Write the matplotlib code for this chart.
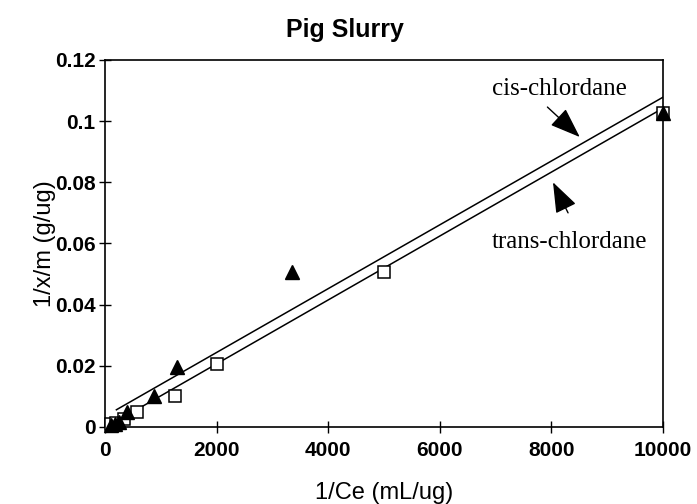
"""
Pig Slurry adsorption isotherm (linearised), cis/trans-chlordane.
"""

import matplotlib
matplotlib.use('Agg')
import matplotlib.pyplot as plt

# trans-chlordane (open squares)
trans_x = [100, 200, 333, 575, 1250, 2000, 5000, 10000]
trans_y = [0.0008, 0.0012, 0.0025, 0.0050, 0.0100, 0.0205, 0.0508, 0.1025]

# cis-chlordane (filled triangles)
cis_x = [100, 170, 250, 390, 870, 1280, 3350, 10000]
cis_y = [0.0005, 0.0010, 0.0015, 0.0050, 0.0100, 0.0197, 0.0505, 0.1025]

# fitted lines (end points)
cis_fit_x = [200, 10000]
cis_fit_y = [0.0056, 0.1078]
trans_fit_x = [100, 10000]
trans_fit_y = [0.0008, 0.1042]

x_ticks = [0, 2000, 4000, 6000, 8000, 10000]
y_ticks = [0, 0.02, 0.04, 0.06, 0.08, 0.1, 0.12]
y_tick_labels = ['0', '0.02', '0.04', '0.06', '0.08', '0.1', '0.12']

sans = ['Liberation Sans', 'DejaVu Sans']
serif = ['Liberation Serif', 'DejaVu Serif']

fig = plt.figure(figsize=(6.97, 5.04), dpi=100)
ax = fig.add_axes([0.151, 0.153, 0.800, 0.728])

ax.plot(cis_fit_x, cis_fit_y, color='black', linewidth=1.1)
ax.plot(trans_fit_x, trans_fit_y, color='black', linewidth=1.1)

ax.plot(trans_x, trans_y, 's', markersize=9, markerfacecolor='white',
        markeredgecolor='black', markeredgewidth=1.1, linestyle='none',
        clip_on=False, zorder=3)
ax.plot(cis_x, cis_y, '^', markersize=10, color='black', linestyle='none',
        clip_on=False, zorder=4)

ax.set_xlim(0, 10000)
ax.set_ylim(0, 0.12)
ax.set_xticks(x_ticks)
ax.set_xticklabels([str(v) for v in x_ticks], fontfamily=sans,
                   fontsize=15, fontweight='bold')
ax.set_yticks(y_ticks)
ax.set_yticklabels(y_tick_labels, fontfamily=sans, fontsize=15, fontweight='bold')
ax.tick_params(direction='inout', length=8, width=1, pad=3)
ax.tick_params(axis='x', pad=6)

for sp in ax.spines.values():
    sp.set_linewidth(1.2)

ax.set_xlabel('1/Ce (mL/ug)', fontfamily=sans, fontsize=17, labelpad=16)
ax.set_ylabel('1/x/m (g/ug)', fontfamily=sans, fontsize=17, labelpad=-1)
fig.text(0.495, 0.94, 'Pig Slurry', fontfamily=sans, fontsize=18,
         fontweight='bold', ha='center', va='center')

# annotations
ax.text(8150, 0.1105, 'cis-chlordane', ha='center', va='center',
        fontfamily=serif, fontsize=18)
ax.text(8320, 0.0605, 'trans-chlordane', ha='center', va='center',
        fontfamily=serif, fontsize=18)
arrow = dict(arrowstyle='-|>,head_length=1.9,head_width=0.7',
             color='black', lw=1.0, shrinkA=0, shrinkB=0)
ax.annotate('', xy=(8510, 0.0948), xytext=(7930, 0.1046), arrowprops=arrow)
ax.annotate('', xy=(8030, 0.0800), xytext=(8300, 0.0700), arrowprops=arrow)

plt.savefig('out.png', dpi=100)
plt.close()
